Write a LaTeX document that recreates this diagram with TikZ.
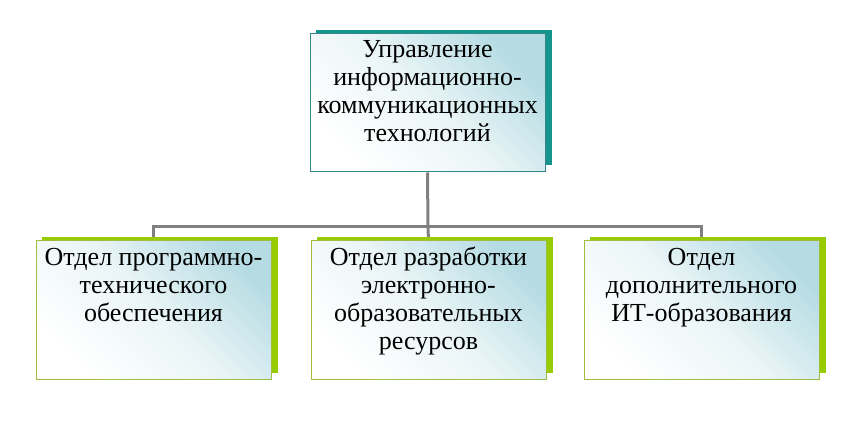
\documentclass[tikz,border=0pt]{standalone}
\usepackage{fontspec}
\setmainfont{Liberation Serif}
\definecolor{lightteal}{RGB}{182,220,227}
\definecolor{tealback}{RGB}{22,148,142}
\definecolor{tealedge}{RGB}{52,136,138}
\definecolor{greenback}{RGB}{153,204,0}
\definecolor{greenedge}{RGB}{160,190,60}
\definecolor{conngray}{RGB}{128,128,128}
\begin{document}
\begin{tikzpicture}[x=1pt,y=-1pt,
  front/.style={draw=#1, line width=1pt, minimum width=235pt, minimum height=138pt, inner sep=0pt,
    top color=lightteal, bottom color=white, middle color=white!72!lightteal, shading angle=-45},
  back/.style={fill=#1, draw=none, minimum width=236pt, minimum height=135pt, inner sep=0pt},
  lbl/.style={anchor=north, inner sep=0pt, align=center, font=\fontsize{26}{28}\selectfont},
  conn/.style={draw=conngray, line width=3pt}]
\useasboundingbox (0,0) rectangle (864,430);
\coordinate (bus) at (428,227);
\coordinate (c1) at (153.5,241);
\coordinate (c2) at (428.5,241);
\coordinate (c3) at (701.5,241);
\node[back=tealback] (topback) at (434,97.5) {};
\node[front=tealedge] (top) at (427.5,103) {};
\draw[conn] (top.south) -- (bus);
\draw[conn] (c1) |- (bus) -| (c3);
\draw[conn] (bus) -- (c2);
\node[back=greenback] (b1back) at (159.5,305) {};
\node[back=greenback] (b2back) at (434.5,305) {};
\node[back=greenback] (b3back) at (707.5,305) {};
\node[front=greenedge] (b1) at (153.5,310) {};
\node[front=greenedge] (b2) at (428.5,310) {};
\node[front=greenedge] (b3) at (701.5,310) {};
\node[lbl] (t0) at (427.5,39) {\rule{0pt}{18pt}Управление\\информационно-\\коммуникационных\\технологий};
\node[lbl] (t1) at (153.5,247) {\rule{0pt}{18pt}Отдел программно-\\технического\\обеспечения};
\node[lbl] (t2) at (428.5,247) {\rule{0pt}{18pt}Отдел разработки\\электронно-\\образовательных\\ресурсов};
\node[lbl] (t3) at (701.5,247) {\rule{0pt}{18pt}Отдел\\дополнительного\\ИТ-образования};
\end{tikzpicture}
\end{document}
